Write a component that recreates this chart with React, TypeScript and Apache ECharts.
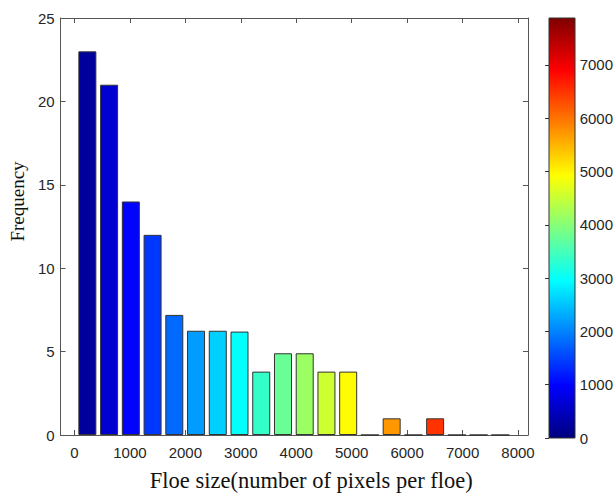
import React, { useEffect, useRef } from 'react';
import * as echarts from 'echarts';

// Histogram bin centres (pixels per floe) and their frequencies
const binCenters = [233, 625, 1017, 1409, 1801, 2193, 2585, 2977, 3369, 3761, 4153, 4545, 4937, 5329, 5721, 6113, 6505, 6897, 7289, 7681];
const frequencies = [23, 21, 14, 12, 7.2, 6.25, 6.25, 6.2, 3.8, 4.9, 4.9, 3.8, 3.8, 0, 1, 0, 1, 0, 0, 0];

const xTicks = [0, 1000, 2000, 3000, 4000, 5000, 6000, 7000, 8000];
const yTicks = [0, 5, 10, 15, 20, 25];
const colorbarTicks = [0, 1000, 2000, 3000, 4000, 5000, 6000, 7000];
const colorbarMax = 7880;

// MATLAB "jet" colormap stops
const jetColors = ['#00007F', '#0000FF', '#007FFF', '#00FFFF', '#7FFF7F', '#FFFF00', '#FF7F00', '#FF0000', '#7F0000'];

const axisColor = '#555555';
const textColor = '#262626';
const tickFont = 'Liberation Sans, Arial, sans-serif';
const labelFont = 'Liberation Serif, Times New Roman, serif';
const plain = (v: number) => String(v);

export default function App() {
  const ref = useRef<HTMLDivElement>(null);
  useEffect(() => {
    if (!ref.current) return;
    const chart = echarts.init(ref.current, undefined, { renderer: 'svg' });
    const lineStyle = { color: axisColor, width: 1 };
    const cbLeft = 549, cbTop = 18, cbWidth = 26, cbHeight = 420;
    chart.setOption({
      animation: false,
      backgroundColor: '#ffffff',
      grid: [
        { left: 58, top: 18, width: 470, height: 420 },
        { left: cbLeft, top: cbTop, width: cbWidth, height: cbHeight },
      ],
      graphic: [
        {
          type: 'rect', x: cbLeft, y: cbTop, z: 0,
          shape: { width: cbWidth, height: cbHeight },
          style: {
            fill: {
              type: 'linear', x: 0, y: 1, x2: 0, y2: 0,
              colorStops: jetColors.map((c, i) => ({ offset: i / (jetColors.length - 1), color: c })),
            },
            stroke: '#333333', lineWidth: 1,
          },
        },
      ],
      xAxis: [
        {
          type: 'value', gridIndex: 0, min: -250, max: 8180, position: 'bottom',
          axisLine: { show: true, onZero: false, lineStyle },
          axisTick: { show: true, inside: true, length: 5, customValues: xTicks, lineStyle },
          axisLabel: { customValues: xTicks, formatter: plain, margin: 10, fontSize: 15, fontFamily: tickFont, color: textColor },
          splitLine: { show: false },
          name: 'Floe size(number of pixels per floe)', nameLocation: 'middle', nameGap: 34,
          nameTextStyle: { fontFamily: labelFont, fontSize: 22.5, color: '#111111', padding: [0, 0, 0, 34] },
        },
        {
          type: 'value', gridIndex: 0, min: -250, max: 8180, position: 'top',
          axisLine: { show: true, onZero: false, lineStyle },
          axisTick: { show: true, inside: true, length: 5, customValues: xTicks, lineStyle },
          axisLabel: { show: false },
          splitLine: { show: false },
        },
        { type: 'value', gridIndex: 1, min: 0, max: 1, show: false },
      ],
      yAxis: [
        {
          type: 'value', gridIndex: 0, min: 0, max: 25, interval: 5, position: 'left',
          axisLine: { show: true, onZero: false, lineStyle },
          axisTick: { show: true, inside: true, length: 5, customValues: yTicks, lineStyle },
          axisLabel: { customValues: yTicks, formatter: plain, margin: 6, fontSize: 15, fontFamily: tickFont, color: textColor },
          splitLine: { show: false },
          name: 'Frequency', nameLocation: 'middle', nameGap: 23,
          nameTextStyle: { fontFamily: labelFont, fontSize: 19, color: '#111111', padding: [0, 0, 0, 50] },
        },
        {
          type: 'value', gridIndex: 0, min: 0, max: 25, interval: 5, position: 'right',
          axisLine: { show: true, onZero: false, lineStyle },
          axisTick: { show: true, inside: true, length: 5, customValues: yTicks, lineStyle },
          axisLabel: { show: false },
          splitLine: { show: false },
        },
        {
          type: 'value', gridIndex: 1, min: 0, max: colorbarMax, position: 'right', z: 5,
          axisLine: { show: false },
          axisTick: { show: true, inside: true, length: 4, customValues: colorbarTicks, lineStyle: { color: '#333333' } },
          axisLabel: { customValues: colorbarTicks, formatter: plain, margin: 6, fontSize: 15, fontFamily: tickFont, color: textColor },
          splitLine: { show: false },
        },
      ],
      visualMap: {
        type: 'continuous', show: false, min: 0, max: colorbarMax, dimension: 0, seriesIndex: 0,
        inRange: { color: jetColors },
      },
      series: [
        {
          type: 'bar', xAxisIndex: 0, yAxisIndex: 0,
          data: binCenters.map((c, i) => [c, frequencies[i]]),
          barWidth: 18,
          itemStyle: { borderColor: '#333333', borderWidth: 1 },
        },
      ],
    });
    return () => chart.dispose();
  }, []);
  return <div ref={ref} style={{ position: 'fixed', left: 0, top: 0, width: 616, height: 497, background: '#fff' }} />;
}
